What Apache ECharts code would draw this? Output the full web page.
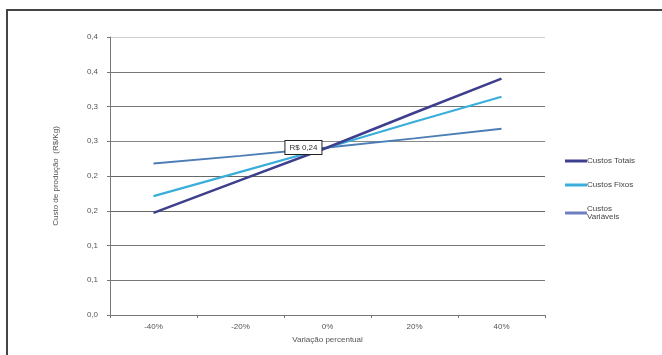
<!DOCTYPE html>
<html><head><meta charset="utf-8">
<script src="https://cdn.jsdelivr.net/npm/echarts@6/dist/echarts.min.js"></script>
<style>html,body{margin:0;padding:0;background:#fff}#c{width:662px;height:355px}</style>
</head><body><div id="c"></div>
<script>
var categories = ['-40%', '-20%', '0%', '20%', '40%'];
var custosTotais = [0.147, 0.194, 0.241, 0.291, 0.340];
var custosFixos = [0.171, 0.206, 0.241, 0.278, 0.314];
var custosVariaveis = [0.218, 0.229, 0.241, 0.254, 0.268];
var yTickLabels = ['0,0', '0,1', '0,1', '0,2', '0,2', '0,3', '0,3', '0,4', '0,4'];
var seriesNames = ['Custos Totais', 'Custos Fixos', 'Custos Variáveis'];
var labelText = 'R$ 0,24';
var labelIndex = 2;

var font = 'Liberation Sans, Arial, sans-serif';
var chart = echarts.init(document.getElementById('c'));
var totaisData = custosTotais.map(function (v, i) {
  if (i !== labelIndex) return v;
  return { value: v, label: { show: true, position: 'left', distance: 6, formatter: labelText,
    color: '#333', fontSize: 8, fontFamily: font, backgroundColor: '#fff',
    borderColor: '#222', borderWidth: 1, padding: [3, 4, 2, 4] } };
});
chart.setOption({
  animation: false,
  textStyle: { fontFamily: font },
  graphic: [{ type: 'rect', shape: { x: 7, y: 10, width: 700, height: 400 },
    style: { fill: 'none', stroke: '#444', lineWidth: 2 }, silent: true }],
  grid: { left: 110, right: 117, top: 37, bottom: 40 },
  legend: {
    orient: 'vertical', left: 560, top: 152, itemWidth: 22, itemHeight: 3, itemGap: 16,
    icon: 'rect',
    data: seriesNames,
    textStyle: { fontSize: 8, color: '#444', width: 52, overflow: 'break', padding: [0, 0, 0, -5] }
  },
  xAxis: {
    type: 'category', data: categories, boundaryGap: true,
    name: 'Variação percentual', nameLocation: 'middle', nameGap: 20,
    nameTextStyle: { fontSize: 8, color: '#555' },
    axisLine: { lineStyle: { color: '#777', width: 1 } },
    axisTick: { show: true, length: 3, lineStyle: { color: '#777' } },
    axisLabel: { fontSize: 8, color: '#555', margin: 8 }
  },
  yAxis: {
    type: 'value', min: 0, max: 0.4, interval: 0.05,
    name: 'Custo de produção  (R$/Kg)', nameLocation: 'middle', nameGap: 50, nameRotate: 90,
    nameTextStyle: { fontSize: 8, color: '#555' },
    axisLine: { show: true, lineStyle: { color: '#777', width: 1 } },
    axisTick: { show: true, length: 3, lineStyle: { color: '#777' } },
    axisLabel: { fontSize: 8, color: '#555', margin: 12,
      formatter: function (v) { return yTickLabels[Math.round(v / 0.05)]; } },
    splitLine: { show: true, lineStyle: { width: 1.2,
      color: ['#777', '#777', '#777', '#666', '#666', '#888', '#777', '#777', '#cfcfcf'] } }
  },
  series: [
    { name: seriesNames[0], type: 'line', data: totaisData, symbol: 'circle', symbolSize: 0.1,
      showSymbol: true, label: { show: false },
      lineStyle: { color: '#3e3e8e', width: 2.5 }, itemStyle: { color: '#3e3e8e' }, z: 3 },
    { name: seriesNames[1], type: 'line', data: custosFixos, symbol: 'none',
      lineStyle: { color: '#3aaedb', width: 2.2 }, itemStyle: { color: '#3aaedb' }, z: 2 },
    { name: seriesNames[2], type: 'line', data: custosVariaveis, symbol: 'none',
      lineStyle: { color: '#4d7db5', width: 1.8 }, itemStyle: { color: '#6f7fc0' }, z: 1 }
  ]
});
</script></body></html>
